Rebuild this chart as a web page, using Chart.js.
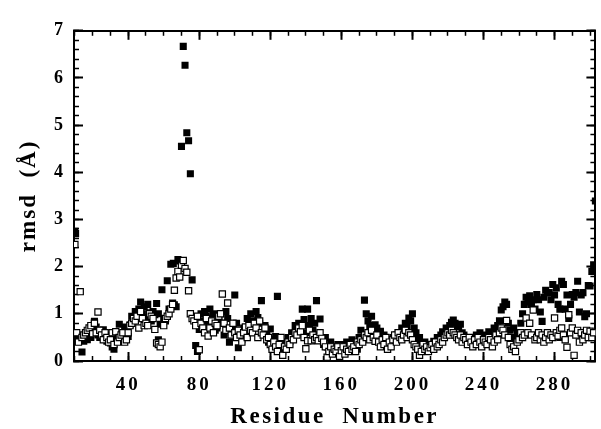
<!DOCTYPE html>
<html lang="en">
<head>
    <meta charset="UTF-8">
    <title>rmsd per residue</title>
    <script src="https://cdn.jsdelivr.net/npm/chart.js"></script>
    <style>
        body {
            margin: 0;
            background: #fff;
        }
        #wrap {
            width: 601px;
            height: 429px;
        }
    </style>
</head>
<body>
    <div id="wrap">
        <canvas id="rmsd-chart" width="601" height="429"></canvas>
    </div>

    <script>
        // Filled squares: one value per residue starting at residue 10
        const filledStart = 10;
        const filledRmsd = [
            2.75, 0.55, 0.45, 0.48, 0.19, 0.42, 0.55, 0.45, 0.62, 0.50,   // 10-19
            0.70, 0.84, 0.72, 0.55, 0.50, 0.62, 0.66, 0.50, 0.42, 0.55,   // 20-29
            0.38, 0.30, 0.25, 0.45, 0.50, 0.78, 0.55, 0.45, 0.72, 0.50,   // 30-39
            0.52, 0.77, 0.95, 0.85, 1.05, 0.90, 1.10, 1.25, 1.00, 1.15,   // 40-49
            0.92, 1.20, 1.02, 0.85, 1.05, 0.98, 1.22, 1.00, 0.78, 1.51,   // 50-59
            0.90, 0.85, 1.70, 1.10, 2.05, 1.23, 1.19, 1.15, 2.15, 2.12,   // 60-69
            4.55, 6.67, 6.27, 4.84, 4.67, 3.97, 1.72, 0.91, 0.33, 0.20,   // 70-79
            0.67, 1.00, 0.85, 1.05, 0.95, 0.75, 1.10, 0.90, 1.00, 0.65,   // 80-89
            0.70, 0.85, 1.00, 0.80, 0.55, 1.05, 0.90, 0.40, 0.60, 0.75,   // 90-99
            1.40, 0.80, 0.28, 0.50, 0.45, 0.70, 0.62, 0.90, 0.75, 1.00,   // 100-109
            0.85, 0.72, 1.05, 0.92, 0.80, 1.28, 0.60, 0.75, 0.55, 0.40,   // 110-119
            0.68, 0.30, 0.45, 0.52, 1.37, 0.25, 0.35, 0.20, 0.40, 0.30,   // 120-129
            0.50, 0.42, 0.60, 0.55, 0.75, 0.65, 0.80, 0.70, 1.10, 0.88,   // 130-139
            0.60, 1.10, 0.75, 0.90, 0.65, 0.80, 1.28, 0.55, 0.89, 0.45,   // 140-149
            0.35, 0.50, 0.30, 0.22, 0.40, 0.18, 0.30, 0.25, 0.35, 0.20,   // 150-159
            0.28, 0.35, 0.22, 0.40, 0.30, 0.20, 0.45, 0.30, 0.38, 0.25,   // 160-169
            0.50, 0.65, 0.45, 1.29, 1.00, 0.85, 0.75, 0.95, 0.60, 0.77,   // 170-179
            0.70, 0.50, 0.63, 0.40, 0.55, 0.35, 0.30, 0.45, 0.38, 0.50,   // 180-189
            0.42, 0.55, 0.60, 0.48, 0.70, 0.62, 0.80, 0.72, 0.91, 0.85,   // 190-199
            1.00, 0.70, 0.60, 0.45, 0.50, 0.35, 0.30, 0.40, 0.28, 0.35,   // 200-209
            0.25, 0.30, 0.42, 0.35, 0.50, 0.45, 0.55, 0.62, 0.58, 0.70,   // 210-219
            0.65, 0.75, 0.82, 0.87, 0.80, 0.75, 0.72, 0.78, 0.60, 0.55,   // 220-229
            0.50, 0.40, 0.45, 0.35, 0.50, 0.42, 0.55, 0.45, 0.60, 0.50,   // 230-239
            0.40, 0.55, 0.48, 0.62, 0.50, 0.55, 0.70, 0.60, 0.75, 0.85,   // 240-249
            1.08, 1.15, 1.25, 1.20, 0.80, 0.65, 0.50, 0.70, 0.45, 0.60,   // 250-259
            0.57, 0.80, 1.00, 1.20, 1.35, 1.25, 1.38, 1.20, 1.30, 1.10,   // 260-269
            1.41, 1.30, 1.04, 0.84, 1.35, 1.50, 1.45, 1.45, 1.30, 1.62,   // 270-279
            1.40, 1.55, 1.20, 1.10, 1.69, 1.62, 1.10, 1.40, 0.90, 1.20,   // 280-289
            1.41, 1.35, 1.45, 1.69, 1.04, 1.40, 1.45, 0.94, 1.00, 1.60,   // 290-299
            1.59, 1.90, 2.04                                              // 300-302
        ];
        // Filled squares that share a residue with another point
        const filledExtraRes  = [10.4, 65.4, 69.6, 57, 290, 295, 283, 303];
        const filledExtraRmsd = [2.70, 2.07, 2.13, 0.45, 0.62, 0.55, 0.50, 3.39];

        // Open squares: one value per residue starting at residue 10
        const openStart = 10;
        const openRmsd = [
            2.47, 0.60, 0.40, 1.47, 0.50, 0.55, 0.60, 0.65, 0.70, 0.75,   // 10-19
            0.58, 0.80, 0.60, 1.04, 0.65, 0.55, 0.45, 0.60, 0.50, 0.40,   // 20-29
            0.45, 0.60, 0.35, 0.62, 0.40, 0.50, 0.55, 0.60, 0.40, 0.45,   // 30-39
            0.60, 0.75, 0.80, 0.90, 0.85, 0.95, 0.70, 1.05, 0.90, 0.75,   // 40-49
            0.80, 0.75, 1.00, 0.95, 0.90, 0.67, 0.38, 0.35, 0.30, 0.40,   // 50-59
            0.75, 0.90, 0.95, 1.00, 1.10, 1.20, 1.50, 1.76, 1.90, 1.78,   // 60-69
            2.03, 2.13, 1.96, 1.88, 1.49, 1.00, 0.90, 0.85, 0.75, 0.95,   // 70-79
            0.24, 0.80, 0.70, 0.60, 0.90, 0.53, 0.70, 0.85, 0.60, 0.80,   // 80-89
            0.75, 0.95, 1.00, 1.42, 0.80, 0.65, 1.23, 0.70, 0.55, 0.80,   // 90-99
            0.60, 0.50, 0.65, 0.55, 0.40, 0.60, 0.72, 0.50, 0.75, 0.65,   // 100-109
            0.60, 0.80, 0.70, 0.50, 0.85, 0.60, 0.55, 0.70, 0.45, 0.50,   // 110-119
            0.35, 0.25, 0.40, 0.30, 0.20, 0.35, 0.50, 0.12, 0.30, 0.25,   // 120-129
            0.40, 0.35, 0.50, 0.45, 0.60, 0.55, 0.70, 0.62, 0.75, 0.50,   // 130-139
            0.26, 0.43, 0.65, 0.43, 0.55, 0.45, 0.50, 0.43, 0.60, 0.48,   // 140-149
            0.40, 0.30, 0.08, 0.20, 0.30, 0.15, 0.25, 0.20, 0.30, 0.10,   // 150-159
            0.22, 0.30, 0.15, 0.25, 0.20, 0.35, 0.25, 0.30, 0.20, 0.40,   // 160-169
            0.35, 0.45, 0.40, 0.55, 0.50, 0.60, 0.45, 0.65, 0.50, 0.42,   // 170-179
            0.55, 0.40, 0.30, 0.45, 0.35, 0.50, 0.25, 0.40, 0.30, 0.45,   // 180-189
            0.55, 0.40, 0.60, 0.50, 0.45, 0.55, 0.65, 0.50, 0.60, 0.55,   // 190-199
            0.45, 0.35, 0.30, 0.25, 0.12, 0.20, 0.35, 0.25, 0.30, 0.20,   // 200-209
            0.28, 0.35, 0.25, 0.40, 0.30, 0.35, 0.45, 0.40, 0.50, 0.55,   // 210-219
            0.60, 0.55, 0.65, 0.60, 0.55, 0.50, 0.45, 0.55, 0.40, 0.50,   // 220-229
            0.45, 0.35, 0.50, 0.40, 0.30, 0.45, 0.35, 0.50, 0.40, 0.30,   // 230-239
            0.45, 0.40, 0.35, 0.50, 0.45, 0.30, 0.40, 0.55, 0.45, 0.60,   // 240-249
            0.70, 0.65, 0.55, 0.86, 0.50, 0.35, 0.25, 0.30, 0.20, 0.40,   // 250-259
            0.45, 0.60, 0.50, 0.55, 0.91, 0.60, 0.80, 0.55, 1.08, 0.45,   // 260-269
            0.50, 0.60, 0.45, 0.55, 0.40, 0.50, 0.60, 0.45, 0.55, 0.50,   // 270-279
            0.91, 0.60, 0.53, 0.65, 0.70, 0.55, 0.45, 0.29, 0.98, 0.60,   // 280-289
            0.70, 0.12, 0.55, 0.65, 0.40, 0.60, 0.45, 0.55, 0.65, 0.50,   // 290-299
            0.63, 0.50, 0.60                                              // 300-302
        ];

        // Axis range and tick labels
        const xMin = 9.5;
        const xMax = 303;
        const yMin = 0;
        const yMax = 7;
        const xTickLabels = [40, 80, 120, 160, 200, 240, 280];
        const yTickLabels = [0, 1, 2, 3, 4, 5, 6, 7];
        const xMinorStep = 10;
        const yMinorStep = 0.2;

        function toPoints(start, values, extraRes, extraVals) {
            const pts = values.map((v, i) => ({ x: start + i, y: v }));
            (extraRes || []).forEach((r, i) => pts.push({ x: r, y: extraVals[i] }));
            return pts;
        }

        function minorTicks(min, max, step) {
            const out = [];
            for (let k = Math.ceil(min / step); k * step <= max + 1e-9; k++) {
                out.push({ value: +(k * step).toFixed(4) });
            }
            return out;
        }

        const serif = "'Liberation Serif', 'Times New Roman', serif";

        // One factory for the frame axes: borders and inward ticks come from Chart.js itself
        function frameAxis(position, isMajor, withLabels) {
            const horizontal = position === 'top' || position === 'bottom';
            const axis = {
                type: 'linear',
                position: position,
                axis: horizontal ? 'x' : 'y',
                min: horizontal ? xMin : yMin,
                max: horizontal ? xMax : yMax,
                weight: isMajor ? 1 : 0,
                grid: {
                    display: true,
                    drawOnChartArea: false,
                    drawTicks: true,
                    tickLength: isMajor ? -9 : -5,
                    tickWidth: isMajor ? 2 : 1.5,
                    tickColor: '#000'
                },
                border: { display: isMajor, color: '#000', width: 2 },
                ticks: { display: withLabels },
                afterBuildTicks: s => {
                    if (isMajor) {
                        s.ticks = (horizontal ? xTickLabels : yTickLabels).map(v => ({ value: v }));
                    } else {
                        s.ticks = horizontal ? minorTicks(xMin, xMax, xMinorStep)
                                             : minorTicks(yMin, yMax, yMinorStep);
                    }
                },
                afterFit: s => {
                    if (horizontal) s.height = withLabels ? 68 : 0;
                    else s.width = withLabels ? 74 : 0;
                }
            };
            return axis;
        }

        const xAxis = frameAxis('bottom', true, true);
        xAxis.ticks = {
            display: true,
            color: '#000',
            padding: 22,
            maxRotation: 0,
            autoSkip: false,
            font: { family: serif, size: 19, weight: 'bold' }
        };
        xAxis.title = {
            display: true,
            text: 'Residue  Number',
            color: '#000',
            padding: { top: 0, bottom: 0 },
            font: { family: serif, size: 23, weight: 'bold', lineHeight: 1 }
        };

        const yAxis = frameAxis('left', true, true);
        yAxis.ticks = {
            display: true,
            color: '#000',
            padding: 20,
            font: { family: serif, size: 18, weight: 'bold' }
        };
        yAxis.title = {
            display: true,
            text: 'rmsd  (Å)',
            color: '#000',
            padding: { top: 18, bottom: 0 },
            font: { family: serif, size: 23, weight: 'bold', lineHeight: 1 }
        };

        // Wide letter spacing on the axis labels and titles, as in the original
        const spacedText = {
            id: 'spacedText',
            beforeDraw(chart) {
                const spacing = { x: ['3px', '2.5px'], y: ['0px', '2px'] };
                Object.keys(spacing).forEach(id => {
                    const scale = chart.scales[id];
                    if (!scale || scale._spaced) return;
                    scale._spaced = true;
                    const origLabels = scale.drawLabels;
                    const origTitle = scale.drawTitle;
                    scale.drawLabels = function (area) {
                        const c = this.ctx;
                        c.save();
                        c.letterSpacing = spacing[id][0];
                        origLabels.call(this, area);
                        c.restore();
                    };
                    scale.drawTitle = function (area) {
                        const c = this.ctx;
                        c.save();
                        c.letterSpacing = spacing[id][1];
                        origTitle.call(this, area);
                        c.restore();
                    };
                });
            }
        };

        new Chart(document.getElementById('rmsd-chart').getContext('2d'), {
            type: 'scatter',
            data: {
                datasets: [
                    {
                        label: 'open',
                        data: toPoints(openStart, openRmsd),
                        xAxisID: 'x',
                        yAxisID: 'y',
                        pointStyle: 'rect',
                        pointRadius: 4.4,
                        backgroundColor: '#fff',
                        borderColor: '#000',
                        borderWidth: 1.2
                    },
                    {
                        label: 'filled',
                        data: toPoints(filledStart, filledRmsd, filledExtraRes, filledExtraRmsd),
                        xAxisID: 'x',
                        yAxisID: 'y',
                        pointStyle: 'rect',
                        pointRadius: 5,
                        backgroundColor: '#000',
                        borderColor: '#000',
                        borderWidth: 0
                    }
                ]
            },
            options: {
                responsive: false,
                animation: false,
                devicePixelRatio: 1,
                layout: {
                    padding: { top: 14, right: 1, left: 0, bottom: 0 }
                },
                plugins: {
                    legend: { display: false },
                    tooltip: { enabled: false }
                },
                scales: {
                    x: xAxis,
                    xMinor: frameAxis('bottom', false, false),
                    xTop: frameAxis('top', true, false),
                    xTopMinor: frameAxis('top', false, false),
                    y: yAxis,
                    yMinor: frameAxis('left', false, false),
                    yRight: frameAxis('right', true, false),
                    yRightMinor: frameAxis('right', false, false)
                }
            },
            plugins: [spacedText]
        });
    </script>
</body>
</html>
